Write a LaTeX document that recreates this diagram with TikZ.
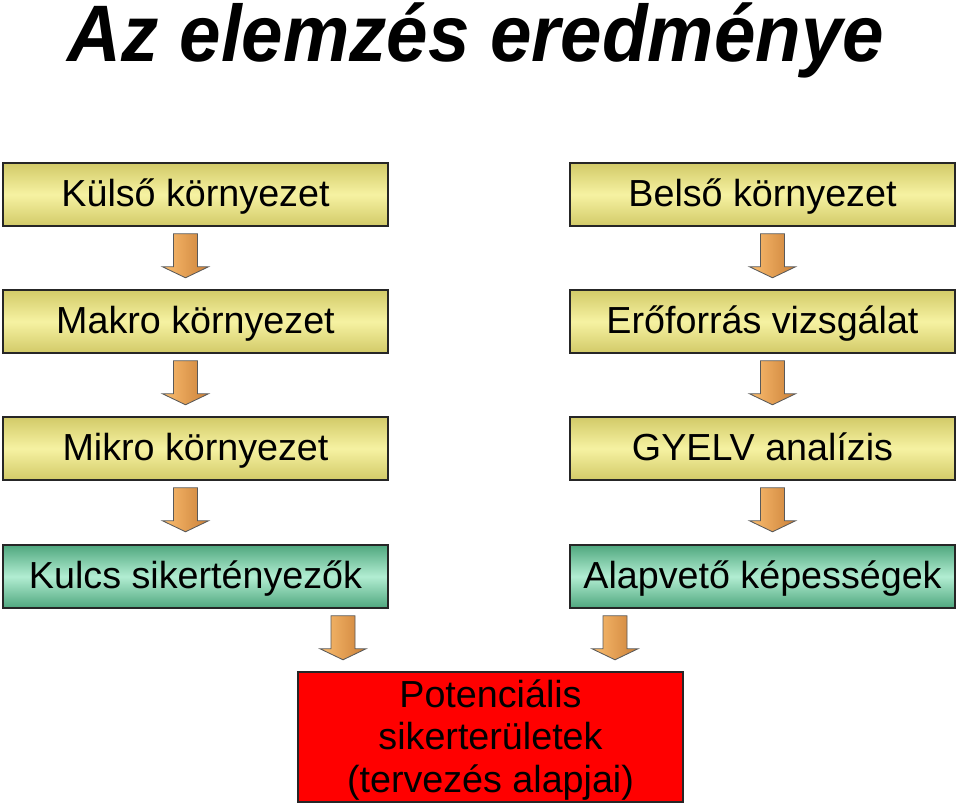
\documentclass[tikz,border=0pt]{standalone}
\usepackage{fontspec}
\setmainfont{Liberation Sans}
\usepackage{graphicx}
\usetikzlibrary{calc}
\definecolor{khakiD}{HTML}{D2CA68}
\definecolor{khakiL}{HTML}{F6F2A2}
\definecolor{mintD}{HTML}{4FA77E}
\definecolor{mintL}{HTML}{B2EDD2}
\definecolor{arrL}{HTML}{FBBE70}
\definecolor{arrD}{HTML}{CB8038}
% block arrow below a box: #1 node, #2 horizontal offset (px)
\newcommand{\blkarrow}[2]{%
  \shadedraw[blkarr] ($(#1.south)+(#2-12,7)$) -- ++(24,0) -- ++(0,33) -- ++(11,0)
    -- ++(-23,11) -- ++(-23,-11) -- ++(11,0) -- cycle;}
\begin{document}
\begin{tikzpicture}[x=0.025cm,y=-0.025cm,
  box/.style={draw=black!85,line width=1.1pt,minimum width=9.625cm,minimum height=1.575cm,
    inner sep=0pt,text height=23pt,text depth=5.4pt,font=\fontsize{26.8}{30}\selectfont},
  yelbox/.style={box,top color=khakiD,bottom color=khakiD,middle color=khakiL},
  grnbox/.style={box,top color=mintD,bottom color=mintD,middle color=mintL},
  blkarr/.style={draw=black!65,line width=0.6pt,left color=arrL,right color=arrD}]
\useasboundingbox (0,0) rectangle (960,806);
\node[anchor=base,font=\bfseries\itshape\fontsize{57}{60}\selectfont] (title) at (476,62)
  {\scalebox{0.93}[1]{Az elemzés eredménye}};
% left column
\node[yelbox] (kulso) at (195.5,194.5) {Külső környezet};
\node[yelbox] (makro) at (195.5,321.5) {Makro környezet};
\node[yelbox] (mikro) at (195.5,448.5) {Mikro környezet};
\node[grnbox] (kulcs) at (195.5,576.5) {Kulcs sikertényezők};
% right column
\node[yelbox] (belso) at (762.5,194.5) {Belső környezet};
\node[yelbox] (eroforras) at (762.5,321.5) {Erőforrás vizsgálat};
\node[yelbox] (gyelv) at (762.5,448.5) {GYELV analízis};
\node[grnbox] (alap) at (762.5,576.5) {Alapvető képességek};
% result
\node[draw=black!85,line width=1.1pt,fill=red,minimum width=9.625cm,minimum height=3.25cm,
  inner sep=0pt] (potenc) at (490.5,737) {};
\node[align=center,inner sep=0pt,font=\fontsize{26.8}{30.5}\selectfont] (potenctxt)
  at ($(potenc.center)+(0,3)$) {Potenciális\\sikerterületek\\(tervezés alapjai)};
\blkarrow{kulso}{-10}
\blkarrow{makro}{-10}
\blkarrow{mikro}{-10}
\blkarrow{belso}{10}
\blkarrow{eroforras}{10}
\blkarrow{gyelv}{10}
\blkarrow{kulcs}{147.5}
\blkarrow{alap}{-147.5}
\end{tikzpicture}
\end{document}
